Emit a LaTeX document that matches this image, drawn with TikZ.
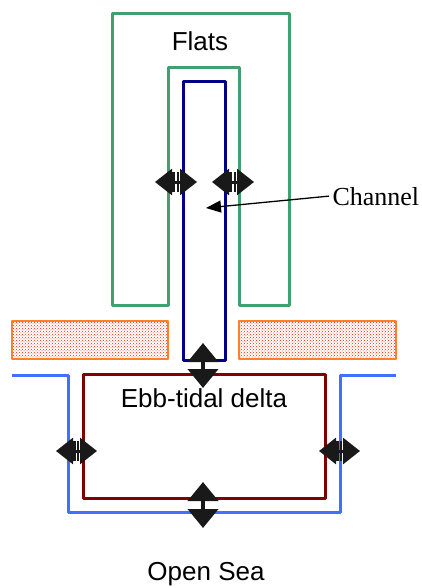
\documentclass[tikz,border=0pt]{standalone}
\usepackage{fontspec}
\setmainfont{Liberation Sans}
\newfontfamily\serifont{Liberation Serif}
\usetikzlibrary{arrows.meta,patterns}
\definecolor{flatgreen}{RGB}{64,160,112}
\definecolor{chanblue}{RGB}{0,0,140}
\definecolor{sandorange}{RGB}{255,128,40}
\definecolor{seablue}{RGB}{64,112,255}
\definecolor{deltared}{RGB}{128,0,0}

\begin{document}
\begin{tikzpicture}[
    x=1pt, y=-1pt, line join=round,
    flux/.style={line width=3pt, draw=black!90,
      {Triangle[width=26pt,length=17pt,sep=1pt]Bar[width=20pt,line width=2.5pt]}-{Bar[width=20pt,line width=2.5pt,sep=1pt]Triangle[width=26pt,length=17pt]}},
    fluxv/.style={line width=4pt, draw=black!90,
      {Triangle[width=30pt,length=19pt]}-{Triangle[width=30pt,length=19pt]}},
    lbl/.style={font=\fontsize{26}{28}\selectfont}
]
    \useasboundingbox (0,0) rectangle (422,588);

    % Flats
    \draw[flatgreen, line width=3pt] (112,14) -- (289,14) -- (289,305) -- (239,305) -- (239,68)
        -- (168,68) -- (168,305) -- (112,305) -- cycle;
    \node[lbl, anchor=base] (flats) at (200,51) {Flats};

    % Channel
    \draw[chanblue, line width=3pt] (183,82) rectangle (225,360);

    % Barrier islands
    \draw[sandorange, line width=2pt, pattern=crosshatch dots, pattern color=red!75!orange] (12,321) rectangle (168,359);
    \draw[sandorange, line width=2pt, pattern=crosshatch dots, pattern color=red!75!orange] (239,321) rectangle (396,359);

    % Ebb-tidal delta and open sea
    \draw[seablue, line width=3pt] (12,375) -- (68,375) -- (68,512) -- (340,512) -- (340,375) -- (396,375);
    \draw[deltared, line width=3pt] (83,374) rectangle (325,498);
    \node[lbl, anchor=base] (delta) at (204,407) {Ebb-tidal delta};
    \node[lbl, anchor=base] (sea) at (206,580) {Open Sea};

    % Exchange arrows
    \coordinate (fl1) at (154,182); \coordinate (fl2) at (197,182);
    \coordinate (fr1) at (211,182); \coordinate (fr2) at (254,182);
    \coordinate (ct1) at (203,343); \coordinate (ct2) at (203,388);
    \coordinate (dl1) at (55,451);  \coordinate (dl2) at (97,451);
    \coordinate (dr1) at (318,451); \coordinate (dr2) at (360,451);
    \coordinate (db1) at (203,482); \coordinate (db2) at (203,528);
    \draw[flux] (fl1) -- (fl2);
    \draw[flux] (fr1) -- (fr2);
    \draw[fluxv] (ct1) -- (ct2);
    \draw[flux] (dl1) -- (dl2);
    \draw[flux] (dr1) -- (dr2);
    \draw[fluxv] (db1) -- (db2);

    % Channel label
    \node[lbl, font=\fontsize{26}{28}\serifont, anchor=base west] (channel) at (329,205) {Channel};
    \coordinate (chantip) at (206,208);
    \draw[black, line width=1.3pt, -{Triangle[width=12pt,length=15pt]}] (channel.west) -- (chantip);
\end{tikzpicture}
\end{document}
